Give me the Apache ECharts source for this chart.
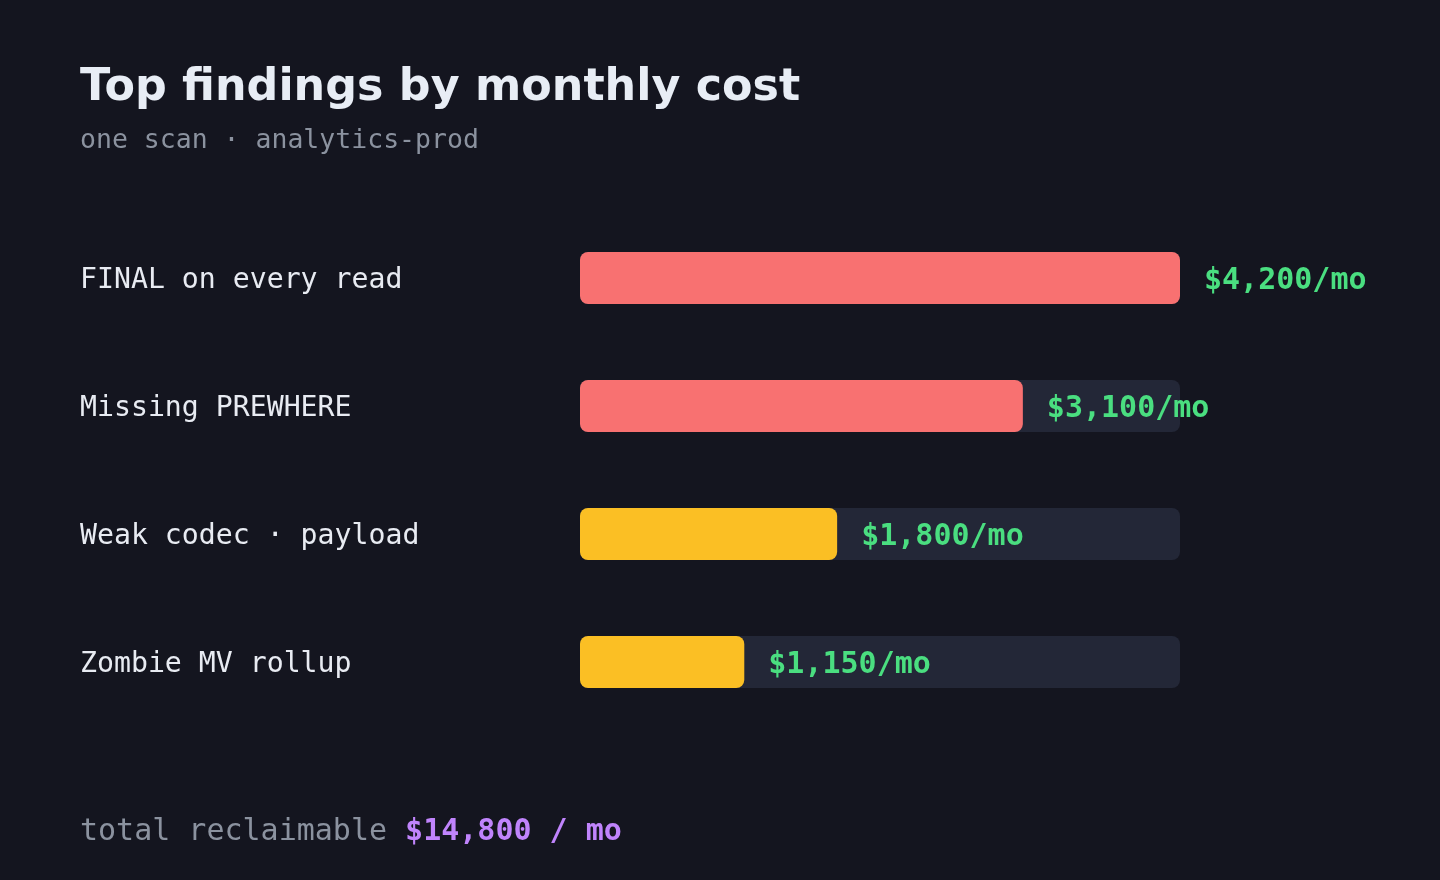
<!DOCTYPE html>
<html>
<head>
<meta charset="utf-8">
<script src="https://cdn.jsdelivr.net/npm/echarts@6/dist/echarts.min.js"></script>
<style>
  html, body { margin: 0; padding: 0; background: #14151f; }
  #chart { width: 1440px; height: 880px; }
</style>
</head>
<body>
<div id="chart"></div>
<script>
var findings = ['FINAL on every read', 'Missing PREWHERE', 'Weak codec \u00b7 payload', 'Zombie MV rollup'];
var costs = [4200, 3100, 1800, 1150];
var severity = ['high', 'high', 'medium', 'medium'];
var totalText = '$14,800 / mo';

var sevColor = { high: '#f87171', medium: '#fbbf24' };
var mono = '"DejaVu Sans Mono", monospace';

function fmt(v) {
  return '$' + v.toLocaleString('en-US') + '/mo';
}

var chart = echarts.init(document.getElementById('chart'));
chart.setOption({
  backgroundColor: '#14151f',
  animation: false,
  title: {
    text: 'Top findings by monthly cost',
    subtext: 'one scan \u00b7 analytics-prod',
    left: 75,
    top: 61,
    itemGap: 18,
    textStyle: { fontFamily: '"DejaVu Sans", sans-serif', fontWeight: 'bold', fontSize: 44.4, color: '#e8edf5' },
    subtextStyle: { fontFamily: mono, fontSize: 26.5, color: '#8b929f' }
  },
  grid: { left: 580, top: 214, width: 600, height: 512 },
  xAxis: { type: 'value', min: 0, max: 4200, show: false },
  yAxis: {
    type: 'category',
    inverse: true,
    data: findings,
    axisLine: { show: false },
    axisTick: { show: false },
    axisLabel: {
      align: 'left',
      margin: 500,
      formatter: function (v) { return '{t|' + v + '}'; },
      rich: {
        t: { fontFamily: mono, fontSize: 28.2, color: '#e8ebf2', padding: [6, 0, 0, 0] }
      }
    }
  },
  series: [{
    type: 'bar',
    barWidth: 52,
    showBackground: true,
    backgroundStyle: { color: '#232737', borderRadius: 8 },
    data: costs.map(function (v, i) {
      return { value: v, itemStyle: { color: sevColor[severity[i]], borderRadius: 8 } };
    }),
    label: {
      show: true,
      position: 'right',
      distance: 24,
      offset: [0, 3],
      fontFamily: mono,
      fontWeight: 'bold',
      fontSize: 30,
      color: '#4ade80',
      formatter: function (p) { return fmt(p.value); }
    }
  }],
  graphic: [{
    type: 'text',
    left: 80,
    top: 817,
    style: {
      text: '{a|total reclaimable }{b|' + totalText + '}',
      rich: {
        a: { fontFamily: mono, fontSize: 30, fill: '#8b929f' },
        b: { fontFamily: mono, fontSize: 30, fontWeight: 'bold', fill: '#c084fc' }
      }
    }
  }]
});
</script>
</body>
</html>
